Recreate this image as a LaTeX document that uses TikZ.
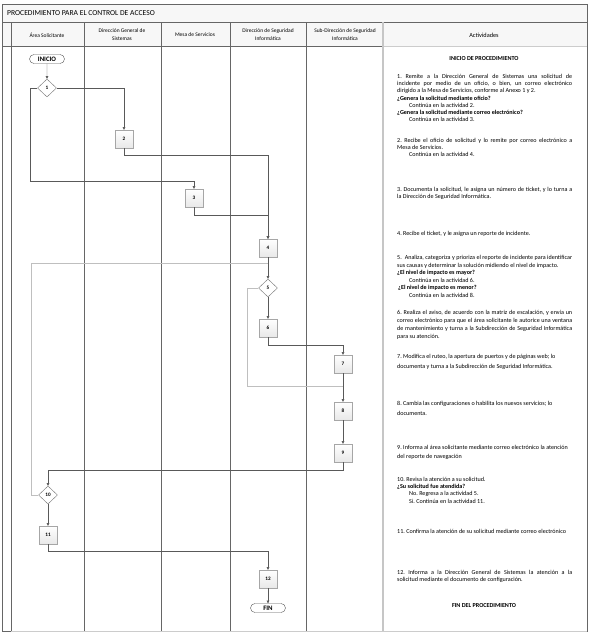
\documentclass[tikz,border=0pt]{standalone}
\usepackage{fontspec}
\setmainfont{Carlito}
\usetikzlibrary{arrows.meta,shapes.geometric,shapes.misc}
\newcommand{\actfont}{\fontsize{6.1}{7.2}\selectfont\frenchspacing}
\newcommand{\sigue}{\hspace*{12pt}}
\tikzset{
  procbox/.style  = {draw=gray!70, rectangle, minimum width=18pt, minimum height=18pt,
                     inner sep=0pt, top color=white, bottom color=gray!18,
                     font=\fontsize{5.2}{6}\selectfont\bfseries},
  decision/.style = {draw=black!55, diamond, minimum width=19pt, minimum height=18pt,
                     inner sep=0pt, fill=white, font=\fontsize{5.2}{6}\selectfont\bfseries},
  terminal/.style = {draw=black!65, rounded rectangle, minimum width=35pt,
                     minimum height=9pt, inner sep=0pt, fill=white,
                     font=\fontsize{6.8}{7}\selectfont\bfseries},
  flow/.style     = {-{Triangle[length=2.6pt,width=2.6pt]}, black!65, line width=0.4pt},
  backflow/.style = {gray!50, line width=0.9pt},
  lane/.style     = {black!60, line width=0.45pt},
  actv/.style     = {anchor=north west, inner sep=0pt, text width=175pt,
                     align=justify, font=\actfont},
  headtxt/.style  = {align=center, inner sep=0pt, font=\fontsize{5.5}{8}\selectfont},
}
\begin{document}
\begin{tikzpicture}[x=1pt, y=-1pt]
\useasboundingbox (0,0) rectangle (590,637);
% ---- frame, title and header rows ----
\fill[gray!6] (2,4) rectangle (587,46);
\draw[lane] (2,4) rectangle (587,631);
\draw[lane] (2,22) -- (587,22);
\draw[lane] (2,46) -- (383,46);
\draw[gray!40, line width=1pt] (383,46) -- (587,46);
\draw[lane] (11,22) -- (11,631);
\foreach \xl in {84,161,230,306}
  \draw[lane] (\xl,22) -- (\xl,631);
\draw[gray!45, line width=1.4pt] (383,22) -- (383,631);
\draw[gray!40, line width=1pt] (11,631) -- (587,631);
\node[anchor=west, inner sep=0pt, font=\fontsize{7.6}{8}\selectfont] (titulo) at (7,13)
      {PROCEDIMIENTO PARA EL CONTROL DE ACCESO};
\node[headtxt] (hArea) at (47,35) {Área Solicitante};
\node[headtxt] (hDGS)  at (122,35) {Dirección General de\\Sistemas};
\node[headtxt] (hMesa) at (195,35) {Mesa de Servicios};
\node[headtxt] (hDSI)  at (268,35) {Dirección de Seguridad\\Informática};
\node[headtxt] (hSDSI) at (345,35) {Sub-Dirección de Seguridad\\Informática};
\node[headtxt, font=\fontsize{6.3}{7}\selectfont] (hAct) at (484,35) {Actividades};
% ---- flowchart nodes ----
\node[terminal] (inicio) at (47,59) {INICIO};
\node[decision] (d1)  at (47,88)  {1};
\node[procbox]  (p2)  at (124,139) {2};
\node[procbox]  (p3)  at (194,198) {3};
\node[procbox]  (p4)  at (268,248) {4};
\node[decision] (d5)  at (268,288) {5};
\node[procbox]  (p6)  at (268,328) {6};
\node[procbox]  (p7)  at (343,364) {7};
\node[procbox]  (p8)  at (343,411) {8};
\node[procbox]  (p9)  at (343,453) {9};
\node[decision] (d10) at (48,495) {10};
\node[procbox]  (p11) at (48,535) {11};
\node[procbox]  (p12) at (268,579) {12};
\node[terminal] (fin) at (268,608) {FIN};
% ---- bend points ----
\coordinate (c1)  at (30,181);
\coordinate (c10) at (31,263);
\coordinate (j45) at (268,263);
\coordinate (c5)  at (247,386);
\coordinate (j78) at (343,386);
% ---- connectors ----
\draw[backflow] (d10.west) -| (c10) -- (j45);
\draw[backflow] (d5.west) -| (c5) -- (j78);
\draw[flow] (inicio) -- (d1);
\draw[flow] (d1.east) -| (p2.north);
\draw[flow] (d1.west) -| (c1) -| (p3.north);
\draw[flow] (p2.south) -- ++(0,7) -| (p4.north);
\draw[flow] (p3.south) -- ++(0,8) -| (p4.north);
\draw[flow] (p4) -- (d5);
\draw[flow] (d5) -- (p6);
\draw[flow] (p6.south) -- ++(0,8) -| (p7.north);
\draw[flow] (p7) -- (p8);
\draw[flow] (p8) -- (p9);
\draw[flow] (p9.south) -- ++(0,8) -| (d10.north);
\draw[flow] (d10) -- (p11);
\draw[flow] (p11.south) -- ++(0,7) -| (p12.north);
\draw[flow] (p12) -- (fin);
% ---- activities ----
\node[font=\actfont\bfseries] (tIni) at (484,59) {INICIO DE PROCEDIMIENTO};
\node[actv] (a1) at (397,74)
  {1. Remite a la Dirección General de Sistemas una solicitud de\linebreak
   incidente por medio de un oficio, o bien, un correo electrónico\linebreak
   dirigido a la Mesa de Servicios, conforme al Anexo 1 y 2.\\
   \textbf{¿Genera la solicitud mediante oficio?}\\
   \sigue Continúa en la actividad 2.\\
   \textbf{¿Genera la solicitud mediante correo electrónico?}\\
   \sigue Continúa en la actividad 3.};
\node[actv] (a2) at (397,138)
  {2. Recibe el oficio de solicitud y lo remite por correo electrónico a\linebreak
   Mesa de Servicios.\\
   \sigue Continúa en la actividad 4.};
\node[actv] (a3) at (397,187)
  {3. Documenta la solicitud, le asigna un número de ticket, y lo turna a\linebreak
   la Dirección de Seguridad Informática.};
\node[actv] (a4) at (397,231)
  {4. Recibe el ticket, y le asigna un reporte de incidente.};
\node[actv, font=\fontsize{6.1}{7.6}\selectfont\frenchspacing] (a5) at (397,255)
  {5.\ \ Analiza, categoriza y prioriza el reporte de incidente para identificar\linebreak
   sus causas y determinar la solución midiendo el nivel de impacto.\\
   \textbf{¿El nivel de impacto es mayor?}\\
   \sigue Continúa en la actividad 6.\\
   \hspace*{1pt}\textbf{¿El nivel de impacto es menor?}\\
   \sigue Continúa en la actividad 8.};
\node[actv, font=\fontsize{6.1}{7.9}\selectfont\frenchspacing] (a6) at (397,310)
  {6. Realiza el aviso, de acuerdo con la matriz de escalación, y envía un\linebreak
   correo electrónico para que el área solicitante le autorice una ventana\linebreak
   de mantenimiento y turna a la Subdirección de Seguridad Informática\linebreak
   para su atención.};
\node[actv, font=\fontsize{6.1}{10}\selectfont\frenchspacing] (a7) at (397,354)
  {7. Modifica el ruteo, la apertura de puertos y de páginas web; lo\\
   documenta y turna a la Subdirección de Seguridad Informática.};
\node[actv, font=\fontsize{6.1}{10}\selectfont\frenchspacing] (a8) at (397,401)
  {8. Cambia las configuraciones o habilita los nuevos servicios; lo\\
   documenta.};
\node[actv, font=\fontsize{6.1}{8.5}\selectfont\frenchspacing] (a9) at (397,445.5)
  {9. Informa al área solicitante mediante correo electrónico la atención\\
   del reporte de navegación};
\node[actv] (a10) at (397,477)
  {10. Revisa la atención a su solicitud.\\
   \textbf{¿Su solicitud fue atendida?}\\
   \sigue No. Regresa a la actividad 5.\\
   \sigue Si. Continúa en la actividad 11.};
\node[actv] (a11) at (397,529)
  {11. Confirma la atención de su solicitud mediante correo electrónico};
\node[actv] (a12) at (397,570)
  {12. Informa a la Dirección General de Sistemas la atención a la\linebreak
   solicitud mediante el documento de configuración.};
\node[font=\actfont\bfseries] (tFin) at (484,606) {FIN DEL PROCEDIMIENTO};
\end{tikzpicture}
\end{document}
